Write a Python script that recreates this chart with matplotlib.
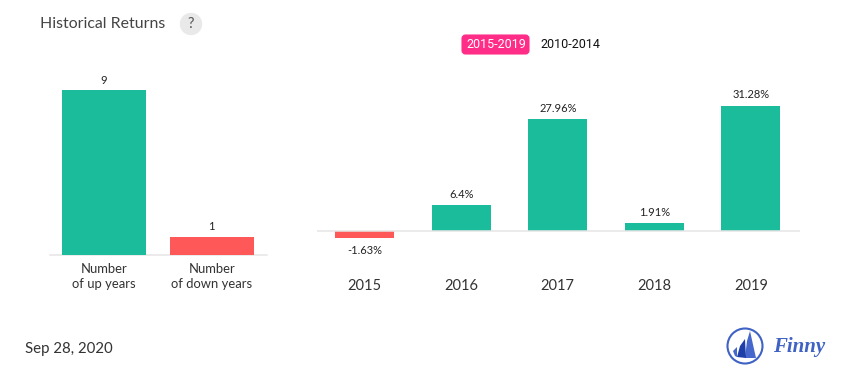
import matplotlib
matplotlib.use("Agg")
import matplotlib.pyplot as plt
from matplotlib.patches import Circle, FancyBboxPatch, Polygon

plt.rcParams['font.family'] = ['Lato', 'DejaVu Sans']

count_labels = ["Number\nof up years", "Number\nof down years"]
count_values = [9, 1]
count_text = ["9", "1"]

years = ["2015", "2016", "2017", "2018", "2019"]
returns = [-1.63, 6.4, 27.96, 1.91, 31.28]
return_text = ["-1.63%", "6.4%", "27.96%", "1.91%", "31.28%"]

GREEN = '#1abc9c'
RED = '#ff5858'
W, H = 855, 382


def px_axes(x0, x1, y_top, y_bottom):
    # axes from pixel box, y measured from the top of the image
    return fig.add_axes([x0 / W, 1 - y_bottom / H, (x1 - x0) / W, (y_bottom - y_top) / H])


def clean(ax):
    for s in ['top', 'left', 'right', 'bottom']:
        ax.spines[s].set_visible(False)
    ax.set_yticks([])
    ax.tick_params(axis='x', length=0)
    ax.patch.set_alpha(0)


fig = plt.figure(figsize=(W / 100, H / 100), dpi=100)

# left chart, 18.3 px per year
ax1 = px_axes(50, 267, 72, 255)
ax1.bar(range(2), count_values, width=0.778, color=[GREEN, RED], zorder=2)
ax1.set_xlim(-0.5, 1.51)
ax1.set_ylim(0, 183 / 18.3)
ax1.axhline(0, color='#e6e6e6', lw=1.1, zorder=1, clip_on=False)
clean(ax1)
ax1.set_xticks(range(2))
ax1.set_xticklabels(count_labels, fontsize=9.4, color='#333333', linespacing=1.3)
ax1.tick_params(axis='x', pad=5.5)
for i, v in enumerate(count_values):
    ax1.annotate(count_text[i], (i, v), xytext=(-0.5, 3.2), textcoords='offset points',
                 ha='center', va='bottom', fontsize=8, color='#222222')

# right chart, 4 px per percent
ax2 = px_axes(317, 800, 72, 290)
colors2 = [GREEN if v >= 0 else RED for v in returns]
ax2.bar(range(5), returns, width=0.612, color=colors2, zorder=2)
ax2.set_xlim(-0.495, 4.51)
ax2.set_ylim(-59 / 4.0, 159 / 4.0)
ax2.axhline(0, color='#e6e6e6', lw=1.1, zorder=3)
clean(ax2)
ax2.set_xticks(range(5))
ax2.set_xticklabels([])
for i, v in enumerate(returns):
    off = (0, 4) if v >= 0 else (0, -5.5)
    ax2.annotate(return_text[i], (i, v), xytext=off, textcoords='offset points',
                 ha='center', va='bottom' if v >= 0 else 'top', fontsize=8, color='#222222')
    ax2.annotate(years[i], (i, 0), xytext=(0, -34.5), textcoords='offset points',
                 ha='center', va='top', fontsize=10.5, color='#333333')

# overlay in image pixels for header, toggle, date and logo
ov = fig.add_axes([0, 0, 1, 1])
ov.set_xlim(0, W)
ov.set_ylim(H, 0)
ov.axis('off')
ov.patch.set_alpha(0)

ov.text(40, 24.5, "Historical Returns", fontsize=11.4, color='#444444', va='center')
ov.add_patch(Circle((191, 24), 10.5, color='#e9e9e9'))
ov.text(191, 24, "?", fontsize=10.5, color='#555555', ha='center', va='center')

ov.add_patch(FancyBboxPatch((462.5, 35.5), 66, 18, boxstyle='round,pad=0,rounding_size=3',
                            fc='#ff2d87', ec='#ff2d87', lw=1.5))
ov.text(496.5, 45, "2015-2019", fontsize=9, color='white', ha='center', va='center', family='Roboto')
ov.text(570, 45, "2010-2014", fontsize=9, color='#111111', ha='center', va='center', family='Roboto')

ov.text(25, 349, "Sep 28, 2020", fontsize=10.8, color='#333333', va='center')

# logo
ov.add_patch(Circle((745, 346), 17.5, fc='white', ec='#3f62c4', lw=1.5))
ov.add_patch(Polygon([(747, 341), (750, 331), (756, 358), (745, 358)], fc='#4667cc', ec='none'))
ov.add_patch(Polygon([(740, 346), (745, 339), (746, 358), (737, 357)], fc='#1f3fa8', ec='none'))
ov.add_patch(Polygon([(733, 351), (737, 347), (737, 357), (735, 356)], fc='#4667cc', ec='none'))
ov.text(773, 347, "Finny", fontsize=15, color='#3f62c4', va='center', fontweight='bold',
        style='italic', family='Liberation Serif')

fig.savefig('out.png', dpi=100)
